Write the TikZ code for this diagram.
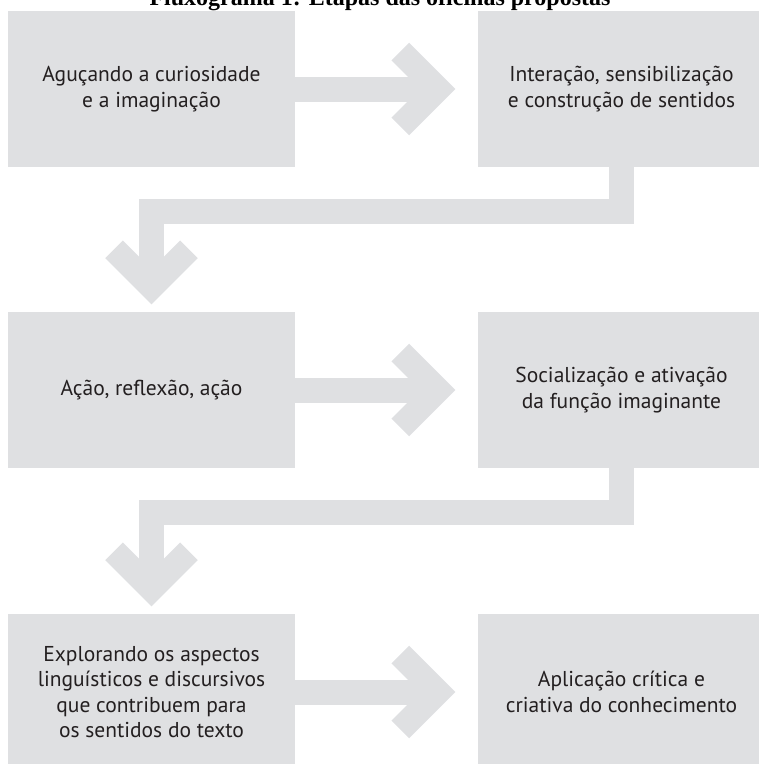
\documentclass[tikz,border=0pt]{standalone}
\usepackage{fontspec}
\setmainfont{Liberation Serif}
\newfontfamily\boxfont{PT Sans}
\usetikzlibrary{calc}

\definecolor{boxgray}{RGB}{223,224,226}
\definecolor{ink}{RGB}{35,31,32}
\tikzset{
  box/.style={fill=boxgray, minimum width=287pt, minimum height=156pt,
    inner sep=0pt, align=center, text=ink,
    font=\boxfont\fontsize{21.5}{25.5}\selectfont},
  band/.style={draw=boxgray, line width=25pt, line join=miter, line cap=butt},
}

\begin{document}
\begin{tikzpicture}[x=1pt, y=-1pt]
    \useasboundingbox (0,0) rectangle (759,764);
    % title
    \node[anchor=base] (title) at (380,5)
      {\bfseries\fontsize{24}{28}\selectfont Fluxograma 1: Etapas das oficinas propostas};
    % stages
    \node[box] (b11) at (151.5,89) {Aguçando a curiosidade\\e a imaginação};
    \node[box] (b12) at (621.5,89) {Interação, sensibilização\\e construção de sentidos};
    \node[box] (b21) at (151.5,390) {Ação, reflexão, ação};
    \node[box] (b22) at (621.5,390) {Socialização e ativação\\da função imaginante};
    \node[box] (b31) at (151.5,692) {Explorando os aspectos\\linguísticos e discursivos\\que contribuem para\\os sentidos do texto};
    \node[box] (b32) at (621.5,692) {Aplicação crítica e\\criativa do conhecimento};
    % arrows along the rows
    \coordinate (h1) at ($(b12.west)+(-40,0)$);
    \coordinate (h2) at ($(b22.west)+(-40,0)$);
    \coordinate (h3) at ($(b32.west)+(-40,0)$);
    \draw[band] (b11.east) -- (h1);
    \draw[band] ($(h1)+(-37.5,-37.5)$) -- (h1) -- ($(h1)+(-37.5,37.5)$);
    \draw[band] (b21.east) -- (h2);
    \draw[band] ($(h2)+(-37.5,-37.5)$) -- (h2) -- ($(h2)+(-37.5,37.5)$);
    \draw[band] (b31.east) -- (h3);
    \draw[band] ($(h3)+(-37.5,-37.5)$) -- (h3) -- ($(h3)+(-37.5,37.5)$);
    % arrows down to the next row
    \coordinate (v1) at ($(b21.north)+(0,-25)$);
    \coordinate (v2) at ($(b31.north)+(0,-25)$);
    \draw[band] (b12.south) -- ++(0,44.5) -| (v1);
    \draw[band] ($(v1)+(-37.5,-37.5)$) -- (v1) -- ($(v1)+(37.5,-37.5)$);
    \draw[band] (b22.south) -- ++(0,44.5) -| (v2);
    \draw[band] ($(v2)+(-37.5,-37.5)$) -- (v2) -- ($(v2)+(37.5,-37.5)$);
\end{tikzpicture}
\end{document}
